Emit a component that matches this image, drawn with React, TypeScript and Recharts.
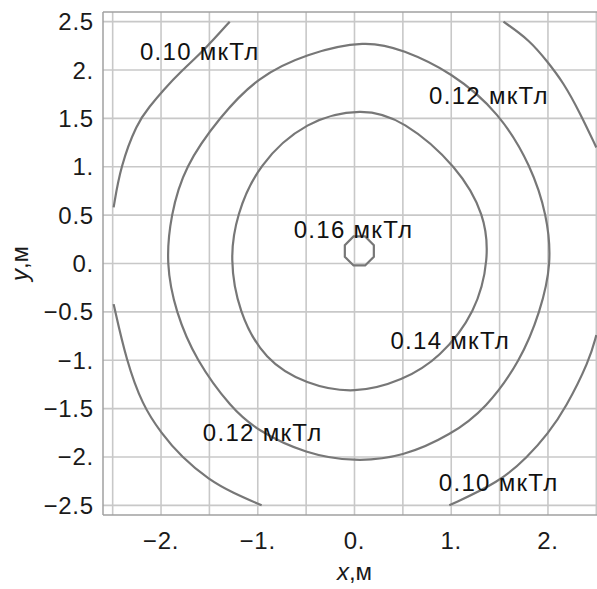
import React from "react";
import { LineChart, Line, XAxis, YAxis, CartesianGrid, ReferenceLine, ReferenceDot, Label } from "recharts";

type Pt = { x: number; y: number };

const xTicks = [-2, -1, 0, 1, 2];
const xTickLabels = ["\u22122.", "\u22121.", "0.", "1.", "2."];
const yTicks = [-2.5, -2, -1.5, -1, -0.5, 0, 0.5, 1, 1.5, 2, 2.5];
const yTickLabels = ["\u22122.5", "\u22122.", "\u22121.5", "\u22121.", "\u22120.5", "0.", "0.5", "1.", "1.5", "2.", "2.5"];
const gridValues = [-2.5, -2, -1.5, -1, -0.5, 0, 0.5, 1, 1.5, 2, 2.5];

// 0.16 мкТл – small octagon near the centre
const contour016: Pt[] = [
  { x: 0.11, y: 0.28 }, { x: 0.2, y: 0.19 }, { x: 0.2, y: 0.07 }, { x: 0.11, y: -0.02 },
  { x: -0.01, y: -0.02 }, { x: -0.1, y: 0.07 }, { x: -0.1, y: 0.19 }, { x: -0.01, y: 0.28 },
];

// 0.14 мкТл – closed
const contour014: Pt[] = [
  { x: 0.08, y: 1.61 }, { x: -0.5, y: 1.48 }, { x: -1.0, y: 1.02 }, { x: -1.22, y: 0.5 },
  { x: -1.29, y: 0.05 }, { x: -1.2, y: -0.5 }, { x: -0.93, y: -1.0 }, { x: -0.5, y: -1.25 },
  { x: 0.0, y: -1.35 }, { x: 0.5, y: -1.21 }, { x: 0.88, y: -0.98 }, { x: 1.26, y: -0.5 },
  { x: 1.39, y: 0.05 }, { x: 1.35, y: 0.5 }, { x: 1.07, y: 1.0 }, { x: 0.5, y: 1.49 },
];

// 0.12 мкТл – closed
const contour012: Pt[] = [
  { x: 0.12, y: 2.31 }, { x: -0.5, y: 2.17 }, { x: -1.0, y: 1.93 }, { x: -1.39, y: 1.52 },
  { x: -1.76, y: 1.0 }, { x: -1.9, y: 0.5 }, { x: -1.95, y: 0.0 }, { x: -1.85, y: -0.5 },
  { x: -1.64, y: -1.0 }, { x: -1.27, y: -1.5 }, { x: -1.0, y: -1.73 }, { x: -0.5, y: -1.97 },
  { x: 0.0, y: -2.05 }, { x: 0.5, y: -2.0 }, { x: 1.0, y: -1.77 }, { x: 1.36, y: -1.5 },
  { x: 1.72, y: -1.0 }, { x: 1.92, y: -0.5 }, { x: 2.04, y: 0.0 }, { x: 1.99, y: 0.5 },
  { x: 1.83, y: 1.0 }, { x: 1.5, y: 1.56 }, { x: 1.0, y: 1.98 }, { x: 0.5, y: 2.21 },
];

// 0.10 мкТл – four arcs clipped by the square
const contour010TopLeft: Pt[] = [
  { x: -2.49, y: 0.58 }, { x: -2.42, y: 1.0 }, { x: -2.25, y: 1.45 }, { x: -2.12, y: 1.62 },
  { x: -1.98, y: 1.79 }, { x: -1.78, y: 2.0 }, { x: -1.55, y: 2.21 }, { x: -1.29, y: 2.5 },
];
const contour010BottomLeft: Pt[] = [
  { x: -2.49, y: -0.42 }, { x: -2.36, y: -1.0 }, { x: -2.19, y: -1.47 }, { x: -2.0, y: -1.75 },
  { x: -1.79, y: -2.0 }, { x: -1.5, y: -2.24 }, { x: -1.26, y: -2.37 }, { x: -0.96, y: -2.5 },
];
const contour010TopRight: Pt[] = [
  { x: 1.54, y: 2.5 }, { x: 1.81, y: 2.31 }, { x: 2.0, y: 2.08 }, { x: 2.16, y: 1.87 },
  { x: 2.33, y: 1.56 }, { x: 2.5, y: 1.2 },
];
const contour010BottomRight: Pt[] = [
  { x: 0.98, y: -2.5 }, { x: 1.5, y: -2.26 }, { x: 1.79, y: -2.0 }, { x: 2.0, y: -1.76 },
  { x: 2.18, y: -1.5 }, { x: 2.43, y: -1.0 }, { x: 2.5, y: -0.74 },
];

const contourLabels = [
  { text: "0.10 мкТл", x: -1.6, y: 2.19 },
  { text: "0.12 мкТл", x: 1.39, y: 1.74 },
  { text: "0.16 мкТл", x: -0.01, y: 0.35 },
  { text: "0.14 мкТл", x: 0.99, y: -0.8 },
  { text: "0.12 мкТл", x: -0.95, y: -1.75 },
  { text: "0.10 мкТл", x: 1.49, y: -2.26 },
];

const FONT = "'Liberation Sans', Arial, sans-serif";
const LINE = "#777777";
const GRID = "#c8c8c8";
const FRAME = "#a0a0a0";

const rings = [contour014, contour012];
const arcs = [contour010TopLeft, contour010BottomLeft, contour010TopRight, contour010BottomRight];

export default function App() {
  return (
    <div style={{ position: "fixed", left: 0, top: 0, width: 597, height: 589, overflow: "hidden", background: "#fff" }}>
      <LineChart width={610} height={589} margin={{ top: 12, right: 4, bottom: 0, left: 0 }}>
        <CartesianGrid
          stroke={GRID}
          strokeWidth={1.6}
          horizontalValues={gridValues}
          verticalValues={gridValues}
        />
        <XAxis
          type="number"
          dataKey="x"
          domain={[-2.6, 2.6]}
          ticks={xTicks}
          interval={0}
          allowDataOverflow
          height={74}
          tickLine={false}
          tickMargin={11}
          axisLine={{ stroke: FRAME, strokeWidth: 1.5 }}
          tick={{ fontSize: 24, fill: "#1a1a1a", fontFamily: FONT, letterSpacing: 0.8 }}
          tickFormatter={(v: number) => xTickLabels[xTicks.indexOf(v)] ?? String(v)}
        >
          <Label
            content={({ viewBox }: any) => (
              <text x={viewBox.x + viewBox.width / 2} y={580} textAnchor="middle" fontSize={24} fontFamily={FONT} fill="#1a1a1a">
                <tspan fontStyle="italic">x</tspan>,м
              </text>
            )}
          />
        </XAxis>
        <YAxis
          type="number"
          domain={[-2.6, 2.6]}
          ticks={yTicks}
          interval={0}
          allowDataOverflow
          width={103}
          tickLine={false}
          tickMargin={3}
          axisLine={{ stroke: FRAME, strokeWidth: 1.5 }}
          tick={{ fontSize: 24, fill: "#1a1a1a", fontFamily: FONT, letterSpacing: 0.8 }}
          tickFormatter={(v: number) => yTickLabels[yTicks.indexOf(v)] ?? String(v)}
        >
          <Label
            content={({ viewBox }: any) => (
              <text
                x={28}
                y={viewBox.y + viewBox.height / 2}
                transform={`rotate(-90, 28, ${viewBox.y + viewBox.height / 2})`}
                textAnchor="middle"
                fontSize={24}
                fontFamily={FONT}
                fill="#1a1a1a"
              >
                <tspan fontStyle="italic">y</tspan>,м
              </text>
            )}
          />
        </YAxis>
        <ReferenceLine y={2.6} stroke={FRAME} strokeWidth={1.5} />
        {rings.map((d, i) => (
          <Line
            key={"r" + i}
            data={d}
            dataKey="y"
            type="basisClosed"
            stroke={LINE}
            strokeWidth={2.2}
            dot={false}
            activeDot={false}
            isAnimationActive={false}
          />
        ))}
        {arcs.map((d, i) => (
          <Line
            key={"a" + i}
            data={d}
            dataKey="y"
            type="basis"
            stroke={LINE}
            strokeWidth={2.2}
            dot={false}
            activeDot={false}
            isAnimationActive={false}
          />
        ))}
        <Line
          data={contour016}
          dataKey="y"
          type="linearClosed"
          stroke={LINE}
          strokeWidth={2.2}
          dot={false}
          activeDot={false}
          isAnimationActive={false}
        />
        {contourLabels.map((l, i) => (
          <ReferenceDot
            key={"l" + i}
            x={l.x}
            y={l.y}
            r={0}
            fill="none"
            stroke="none"
            label={{ value: l.text, position: "center", fontSize: 24, fill: "#111", fontFamily: FONT, letterSpacing: 1.3 }}
          />
        ))}
      </LineChart>
    </div>
  );
}
